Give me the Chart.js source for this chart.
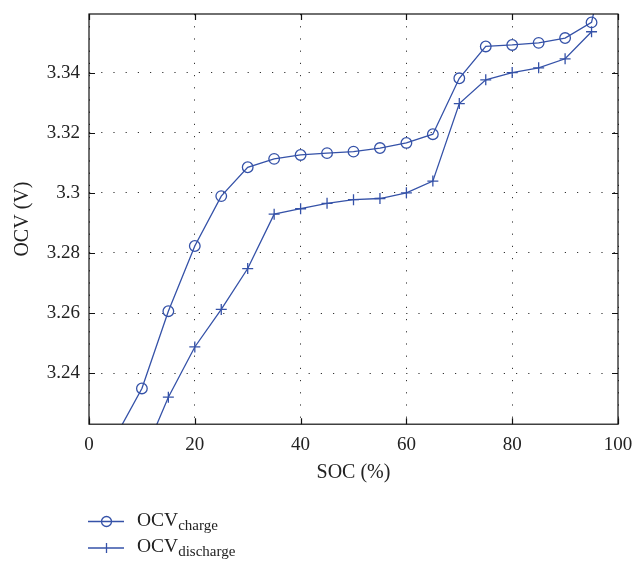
<!DOCTYPE html>
<html>
<head>
<meta charset="utf-8">
<script src="https://cdn.jsdelivr.net/npm/chart.js@4"></script>
<style>
  html, body { margin: 0; padding: 0; background: #fff; }
  #wrap { position: relative; width: 635px; height: 561px; }
  #c { position: absolute; left: 0; top: 0; }
  .leg { position: absolute; font-family: "Liberation Serif", "DejaVu Serif", serif; color: #222; font-size: 19.5px; white-space: nowrap; }
  .leg svg { position: absolute; left: 0; }
  .leg span.t { position: absolute; left: 49px; }
  .leg sub { font-size: 15px; vertical-align: -4px; }
</style>
</head>
<body>
<div id="wrap">
  <canvas id="c" width="635" height="561"></canvas>
  <div class="leg" id="leg1" style="left:88px; top:509px;">
    <svg width="40" height="26" style="top:0"><line x1="0" y1="12.5" x2="36" y2="12.5" stroke="#3552a8" stroke-width="1.3"/><circle cx="18.5" cy="12.5" r="5" fill="none" stroke="#3552a8" stroke-width="1.3"/></svg>
    <span class="t">OCV<sub>charge</sub></span>
  </div>
  <div class="leg" id="leg2" style="left:88px; top:535px;">
    <svg width="40" height="26" style="top:0"><line x1="0" y1="13" x2="36" y2="13" stroke="#3552a8" stroke-width="1.3"/><line x1="18.5" y1="8" x2="18.5" y2="18" stroke="#3552a8" stroke-width="1.3"/></svg>
    <span class="t">OCV<sub>discharge</sub></span>
  </div>
</div>
<script>
// ---- data ----
const socCharge = [5, 10, 15, 20, 25, 30, 35, 40, 45, 50, 55, 60, 65, 70, 75, 80, 85, 90, 95, 100];
const ocvCharge = [3.2188, 3.2349, 3.2606, 3.2823, 3.2989, 3.3085, 3.3113, 3.3126, 3.3132, 3.3137, 3.3149, 3.3166, 3.3195, 3.3381, 3.3487, 3.3492, 3.3499, 3.3515, 3.3567, 3.396];
const socDischarge = [10, 15, 20, 25, 30, 35, 40, 45, 50, 55, 60, 65, 70, 75, 80, 85, 90, 95];
const ocvDischarge = [3.2112, 3.2320, 3.2487, 3.2612, 3.2748, 3.2929, 3.2947, 3.2965, 3.2977, 3.2981, 3.3000, 3.3039, 3.3297, 3.3376, 3.3400, 3.3416, 3.3446, 3.3536];
const xTicks = [0, 20, 40, 60, 80, 100];
const yTicks = [3.24, 3.26, 3.28, 3.30, 3.32, 3.34];
const xRange = [0, 100];
const yRange = [3.2230, 3.3595];
const seriesNames = ['OCV charge', 'OCV discharge'];

const BLUE = '#3552a8';
const FONT = '"Liberation Serif", "DejaVu Serif", serif';

const toPts = (xs, ys) => xs.map((x, i) => ({ x: x, y: ys[i] }));

const framePlugin = {
  id: 'frame',
  afterDraw(chart) {
    const { ctx, chartArea: a, scales } = chart;
    ctx.save();
    ctx.strokeStyle = '#111';
    ctx.lineWidth = 1.2;
    ctx.strokeRect(a.left, a.top, a.right - a.left, a.bottom - a.top);
    const L = 6;
    ctx.beginPath();
    xTicks.forEach(v => {
      const px = Math.round(scales.x.getPixelForValue(v)) + 0.5;
      ctx.moveTo(px, a.bottom); ctx.lineTo(px, a.bottom - L);
      ctx.moveTo(px, a.top); ctx.lineTo(px, a.top + L);
    });
    yTicks.forEach(v => {
      const py = Math.round(scales.y.getPixelForValue(v)) + 0.5;
      ctx.moveTo(a.left, py); ctx.lineTo(a.left + L, py);
      ctx.moveTo(a.right, py); ctx.lineTo(a.right - L, py);
    });
    ctx.stroke();
    ctx.restore();
  }
};

new Chart(document.getElementById('c'), {
  type: 'line',
  data: {
    datasets: [
      {
        label: seriesNames[0],
        data: toPts(socCharge, ocvCharge),
        borderColor: BLUE,
        backgroundColor: 'rgba(0,0,0,0)',
        borderWidth: 1.3,
        pointStyle: 'circle',
        pointRadius: 5.3,
        pointBorderWidth: 1.3,
        pointBorderColor: BLUE,
        pointBackgroundColor: 'rgba(0,0,0,0)',
        tension: 0
      },
      {
        label: seriesNames[1],
        data: toPts(socDischarge, ocvDischarge),
        borderColor: BLUE,
        backgroundColor: 'rgba(0,0,0,0)',
        borderWidth: 1.3,
        pointStyle: 'cross',
        pointRadius: 5.5,
        pointBorderWidth: 1.3,
        pointBorderColor: BLUE,
        tension: 0
      }
    ]
  },
  options: {
    responsive: false,
    animation: false,
    layout: { padding: { left: 0, right: 17, top: 14, bottom: 76 } },
    plugins: { legend: { display: false }, tooltip: { enabled: false } },
    scales: {
      x: {
        type: 'linear',
        min: xRange[0], max: xRange[1],
        afterBuildTicks: s => { s.ticks = xTicks.map(v => ({ value: v })); },
        afterFit: s => { s.paddingLeft = 0; s.paddingRight = 0; },
        ticks: { color: '#222', font: { family: FONT, size: 19 }, padding: 9, maxRotation: 0, callback: v => String(v) },
        grid: { drawTicks: false, color: '#333', lineWidth: 1 },
        border: { display: false, dash: [1.2, 11] },
        title: { display: true, text: 'SOC (%)', color: '#222', font: { family: FONT, size: 20 }, padding: { top: -4, bottom: 0 } }
      },
      y: {
        type: 'linear',
        min: yRange[0], max: yRange[1],
        afterBuildTicks: s => { s.ticks = yTicks.map(v => ({ value: v })); },
        afterFit: s => { s.width = 89; s.paddingTop = 0; s.paddingBottom = 0; },
        ticks: { color: '#222', font: { family: FONT, size: 19 }, padding: 9, callback: v => String(Number(v.toFixed(2))) },
        grid: { drawTicks: false, color: '#333', lineWidth: 1 },
        border: { display: false, dash: [1.2, 11] },
        title: { display: true, text: 'OCV (V)', color: '#222', font: { family: FONT, size: 20 }, padding: { top: 11, bottom: 0 } }
      }
    }
  },
  plugins: [framePlugin]
});
</script>
</body>
</html>
